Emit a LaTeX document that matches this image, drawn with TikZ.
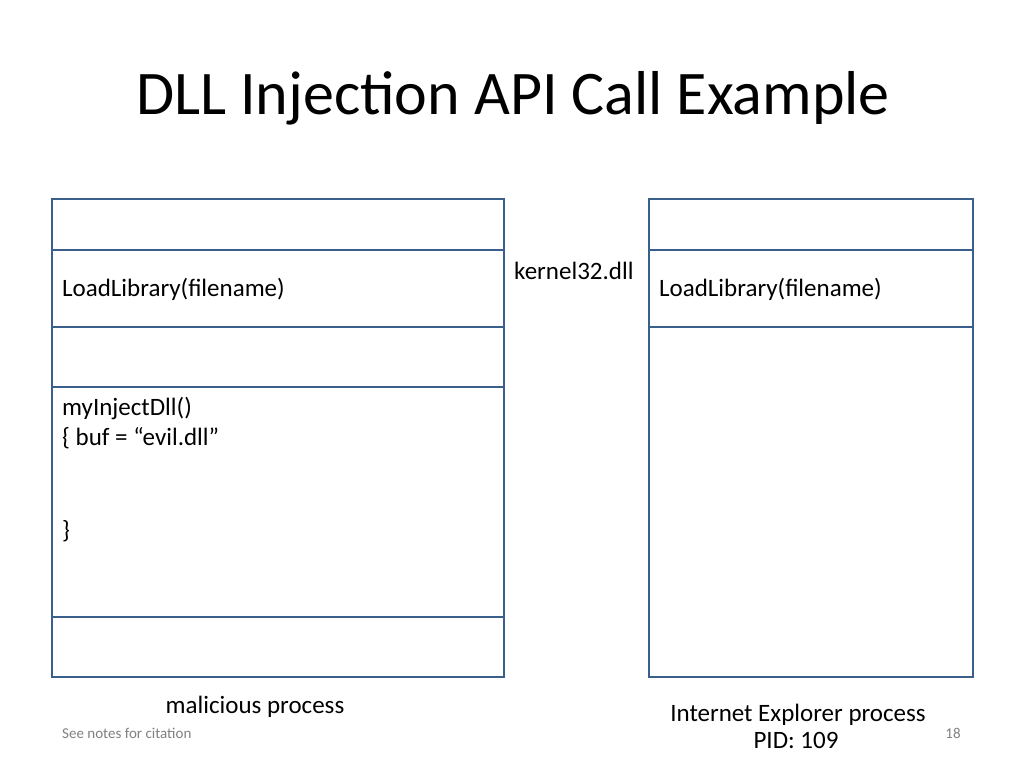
\documentclass[tikz,border=0pt]{standalone}
\usepackage{fontspec}
\setmainfont{Carlito}
\begin{document}
\begin{tikzpicture}[x=1pt,y=-1pt,
  box/.style={draw=boxc,line width=2pt},
  lbl/.style={anchor=west,inner sep=0pt,font=\fontsize{25}{30}\selectfont},
  captxt/.style={inner sep=0pt,font=\fontsize{25}{30}\selectfont}]
\definecolor{boxc}{HTML}{3A5F8A}
\useasboundingbox (0,0) rectangle (1024,768);
\node[inner sep=0pt,font=\fontsize{62}{70}\selectfont] (title) at (513,98) {DLL Injection API Call Example};
% left process
\node[box,minimum width=452,minimum height=51,anchor=north west,inner sep=0pt] (l1) at (51,198) {};
\node[box,minimum width=452,minimum height=77,anchor=north west,inner sep=0pt] (l2) at (51,249) {};
\node[box,minimum width=452,minimum height=60,anchor=north west,inner sep=0pt] (l3) at (51,326) {};
\node[box,minimum width=452,minimum height=230,anchor=north west,inner sep=0pt] (l4) at (51,386) {};
\node[box,minimum width=452,minimum height=60,anchor=north west,inner sep=0pt] (l5) at (51,616) {};
\node[lbl] (t1) at (62,289) {LoadLibrary(filename)};
\node[lbl] (t2) at (62,408) {myInjectDll()};
\node[lbl] (t3) at (62,438) {\{ buf = “evil.dll”};
\node[lbl] (t4) at (62,531) {\}};
% right process
\node[box,minimum width=324,minimum height=51,anchor=north west,inner sep=0pt] (r1) at (648,198) {};
\node[box,minimum width=324,minimum height=77,anchor=north west,inner sep=0pt] (r2) at (648,249) {};
\node[box,minimum width=324,minimum height=350,anchor=north west,inner sep=0pt] (r3) at (648,326) {};
\node[lbl] (t5) at (659,289) {LoadLibrary(filename)};
\node[lbl] (k) at (514,271) {kernel32.dll};
\node[captxt] (mp) at (255,707) {malicious process};
\node[captxt] (ie) at (798,715) {Internet Explorer process};
\node[captxt] (pid) at (796,740) {PID: 109};
\node[anchor=west,inner sep=0pt,text=gray,font=\fontsize{15}{18}\selectfont] (foot) at (62,733) {See notes for citation};
\node[inner sep=0pt,text=gray,font=\fontsize{15}{18}\selectfont] (num) at (953,733) {18};
\end{tikzpicture}
\end{document}
